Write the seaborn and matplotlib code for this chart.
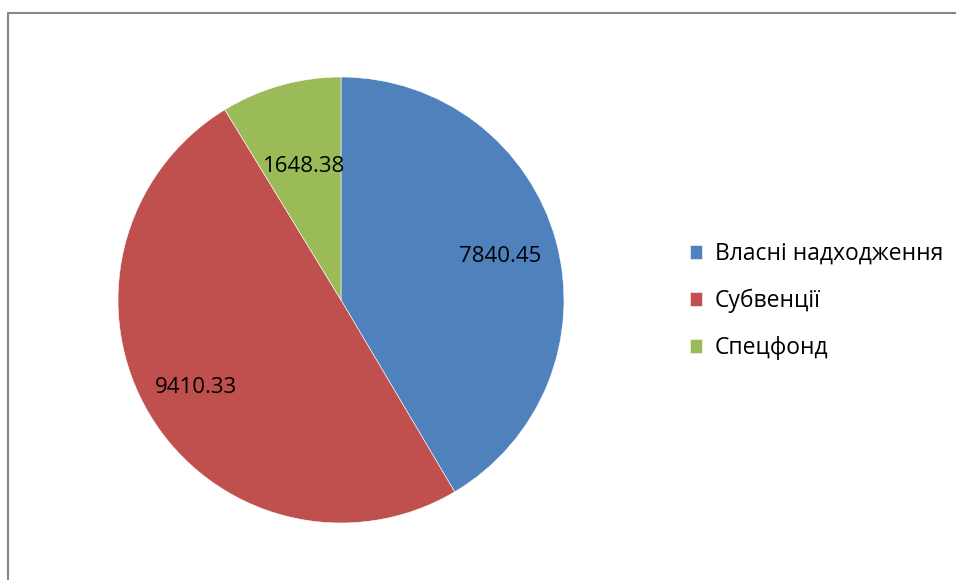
import numpy as np
import matplotlib
matplotlib.use("Agg")
import matplotlib.pyplot as plt
import seaborn as sns

categories = ["Власні надходження", "Субвенції", "Спецфонд"]
values = [7840.45, 9410.33, 1648.38]
colors = ["#4F81BD", "#C0504D", "#9BBB59"]
label_radius = [0.74, 0.76, 0.62]

sns.set_theme(style="white")
plt.rcParams["font.family"] = ["Open Sans", "DejaVu Sans"]
plt.rcParams["text.color"] = "black"

W, H = 956, 580
fig = plt.figure(figsize=(W / 100, H / 100), dpi=100)

# outer chart frame (only left and top edges visible in the crop)
frame = plt.Rectangle((8 / W, -0.5), 2, 1.5 - 13 / H, transform=fig.transFigure,
                      fill=False, edgecolor="#868686", linewidth=1.5)
fig.patches.append(frame)

cx, cy, r = 341, 300, 223
ax = fig.add_axes([(cx - r) / W, (H - cy - r) / H, 2 * r / W, 2 * r / H])

wedges, _ = ax.pie(values, colors=colors, startangle=90, counterclock=False,
                   wedgeprops=dict(linewidth=0.4, edgecolor="white"))
ax.set_aspect("equal")
ax.set_xlim(-1, 1)
ax.set_ylim(-1, 1)
ax.axis("off")

for w, v, lr in zip(wedges, values, label_radius):
    ang = np.deg2rad((w.theta1 + w.theta2) / 2)
    ax.text(lr * np.cos(ang), lr * np.sin(ang), f"{v:.2f}",
            ha="center", va="center", fontsize=16, color="black")

leg = fig.legend(wedges, categories, loc="center left", bbox_to_anchor=(669 / W, 1 - 301 / H),
                 frameon=False, fontsize=16.5, handlelength=0.55, handleheight=0.55,
                 handletextpad=0.55, labelspacing=1.0)
for t in leg.get_texts():
    t.set_color("black")

fig.savefig("out.png", dpi=100, facecolor="white")
